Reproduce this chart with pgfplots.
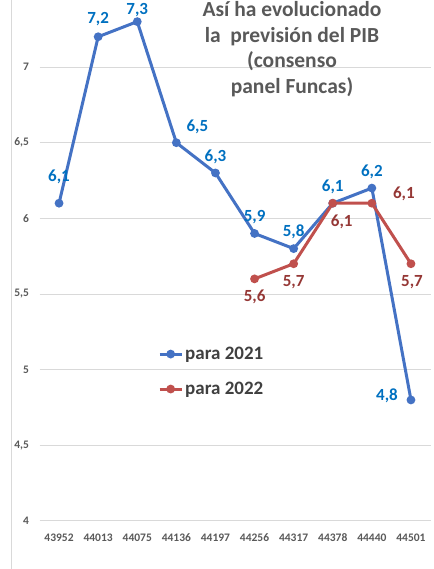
\documentclass[border=0pt]{standalone}
\usepackage{pgfplots}
\pgfplotsset{compat=1.18}
\usepackage{pgfplotstable}
\usepackage{fontspec}
\setmainfont{Carlito}
\definecolor{lblue}{RGB}{68,114,196}
\definecolor{lred}{RGB}{192,80,77}
\definecolor{tblue}{RGB}{0,112,192}
\definecolor{tred}{RGB}{149,55,53}
\definecolor{tgray}{RGB}{89,89,89}
\definecolor{lgray}{RGB}{64,64,64}
\definecolor{ggray}{RGB}{217,217,217}

\pgfplotstableread{
x y dx dy
0 6.1 0 26
1 7.2 0 18
2 7.3 0 12
3 6.5 21 16
4 6.3 0 16
5 5.9 0 16
6 5.8 0 17
7 6.1 0 16
8 6.2 0 16
9 4.8 -24 4
}\bluedata

\pgfplotstableread{
x y dx dy
5 5.6 0 -18
6 5.7 0 -18
7 6.1 9 -19
8 6.1 32 9
9 5.7 1 -18
}\reddata

\begin{document}
\begin{tikzpicture}
\useasboundingbox (0,0) rectangle (433pt,569pt);
\draw[ggray, line width=1pt] (11.5pt,0pt) -- (11.5pt,569pt);
\begin{axis}[
  at={(39.5pt,48pt)}, anchor=south west,
  scale only axis, width=391pt, height=521pt,
  xmin=-0.5, xmax=9.5, ymin=4, ymax=7.443,
  xtick={0,...,9},
  xticklabels={43952,44013,44075,44136,44197,44256,44317,44378,44440,44501},
  ytick={4,4.5,5,5.5,6,6.5,7},
  /pgf/number format/assume math mode=true,
  yticklabel={\pgfmathprintnumber[use comma]{\tick}},
  ticklabel style={font=\fontsize{11.5}{13}\selectfont\bfseries, text=tgray},
  yticklabel style={xshift=-7pt},
  xticklabel style={yshift=-9pt},
  major tick length=0pt,
  axis line style={draw=none},
  ymajorgrids, major grid style={ggray, line width=1pt},
  clip=false,
  legend style={at={(0.303,0.338)}, anchor=north west, draw=none, fill=none,
    font=\fontsize{19}{22}\selectfont\bfseries, text=lgray, row sep=17pt,
    inner sep=0pt},
  legend cell align=left,
  legend image code/.code={\draw[#1, mark repeat=2, mark phase=2] plot coordinates {(0pt,0pt) (11pt,0pt) (22pt,0pt)};},
  nodes near coords={\pgfmathprintnumber[fixed,fixed zerofill,precision=1,use comma]{\pgfplotspointmeta}},
  visualization depends on={\thisrow{dx} \as \dx},
  visualization depends on={\thisrow{dy} \as \dy},
  every node near coord/.append style={anchor=center, xshift=\dx*1pt, yshift=\dy*1pt,
    font=\fontsize{17}{20}\selectfont\bfseries},
]
\addplot[lblue, line width=3pt, mark=*, mark size=2.8pt,
  every node near coord/.append style={text=tblue}] table[x=x,y=y] {\bluedata};
\addlegendentry{para 2021}
\addplot[lred, line width=3pt, mark=*, mark size=2.8pt,
  every node near coord/.append style={text=tred}] table[x=x,y=y] {\reddata};
\addlegendentry{para 2022}
\end{axis}
\node[anchor=north, align=center, text=tgray,
  font=\fontsize{21.5}{25.5}\selectfont\bfseries] at (292pt,571pt)
  {Así ha evolucionado\\la\ \ previsión del PIB\\(consenso\\panel Funcas)};
\end{tikzpicture}
\end{document}
